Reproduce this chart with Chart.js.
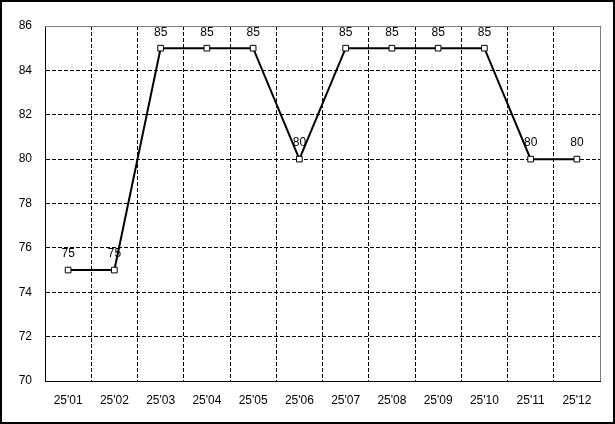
<!DOCTYPE html>
<html>
<head>
<meta charset="utf-8">
<script src="https://cdn.jsdelivr.net/npm/chart.js@4/dist/chart.umd.min.js"></script>
<style>
  body { margin: 0; background: #fff; overflow: hidden; }
  canvas { display: block; }
</style>
</head>
<body>
<canvas id="grafico" width="615" height="424"></canvas>
<script>
// datos
const meses = ["25'01", "25'02", "25'03", "25'04", "25'05", "25'06", "25'07", "25'08", "25'09", "25'10", "25'11", "25'12"];
const valores = [75, 75, 85, 85, 85, 80, 85, 85, 85, 85, 80, 80];
const yMin = 70;
const yMax = 86;
const yPaso = 2;

const fuente = { family: "'Liberation Sans', Arial, sans-serif", size: 12 };

// fondo blanco, marco exterior y borde gris arriba/derecha del area
const marco = {
    id: 'marco',
    beforeDraw(c) {
        const ctx = c.ctx;
        ctx.save();
        ctx.fillStyle = '#fff';
        ctx.fillRect(0, 0, c.width, c.height);
        ctx.restore();
    },
    beforeDatasetsDraw(c) {
        const a = c.chartArea;
        const ctx = c.ctx;
        ctx.save();
        ctx.strokeStyle = '#808080';
        ctx.lineWidth = 1;
        ctx.beginPath();
        ctx.moveTo(a.left, a.top + 0.5);
        ctx.lineTo(a.right + 0.5, a.top + 0.5);
        ctx.lineTo(a.right + 0.5, a.bottom);
        ctx.stroke();
        ctx.restore();
    },
    afterDraw(c) {
        const ctx = c.ctx;
        ctx.save();
        ctx.strokeStyle = '#000';
        ctx.lineWidth = 2;
        ctx.strokeRect(1, 1, c.width - 2, c.height - 2);
        ctx.restore();
    }
};

// etiquetas de valor encima de cada punto
const etiquetas = {
    id: 'etiquetas',
    afterDatasetsDraw(c) {
        const ctx = c.ctx;
        const meta = c.getDatasetMeta(0);
        ctx.save();
        ctx.font = fuente.size + 'px ' + fuente.family;
        ctx.fillStyle = '#000';
        ctx.textAlign = 'center';
        ctx.textBaseline = 'middle';
        meta.data.forEach((p, i) => {
            ctx.fillText(String(valores[i]), p.x, p.y - 16);
        });
        ctx.restore();
    }
};

const ctx = document.getElementById("grafico").getContext('2d');
const chart = new Chart(ctx, {
    type: 'line',
    data: {
        labels: meses,
        datasets: [{
            data: valores,
            borderColor: '#000',
            borderWidth: 2,
            fill: false,
            tension: 0,
            pointStyle: 'rect',
            pointRadius: 4,
            pointBorderWidth: 1,
            pointBorderColor: '#000',
            pointBackgroundColor: '#fff'
        }]
    },
    options: {
        responsive: false,
        animation: false,
        layout: { padding: { left: 0, top: 26, right: 15, bottom: 0 } },
        plugins: {
            legend: { display: false },
            tooltip: { enabled: false }
        },
        scales: {
            x: {
                offset: true,
                afterFit(s) { s.height = 43; },
                grid: {
                    offset: true,
                    drawTicks: false,
                    color: (g) => (g.index === 0 || g.index === meses.length) ? 'rgba(0,0,0,0)' : '#000',
                    lineWidth: 1
                },
                border: { display: true, color: '#000', width: 1, dash: [4, 2] },
                ticks: { color: '#000', font: fuente, padding: 12, maxRotation: 0 }
            },
            y: {
                min: yMin,
                max: yMax,
                afterFit(s) { s.width = 45; },
                grid: {
                    drawTicks: false,
                    color: (g) => (g.tick && (g.tick.value === yMin || g.tick.value === yMax)) ? 'rgba(0,0,0,0)' : '#000',
                    lineWidth: 1
                },
                border: { display: true, color: '#000', width: 1, dash: [4, 2] },
                ticks: { stepSize: yPaso, color: '#000', font: fuente, padding: 13 }
            }
        }
    },
    plugins: [marco, etiquetas]
});
</script>
</body>
</html>
